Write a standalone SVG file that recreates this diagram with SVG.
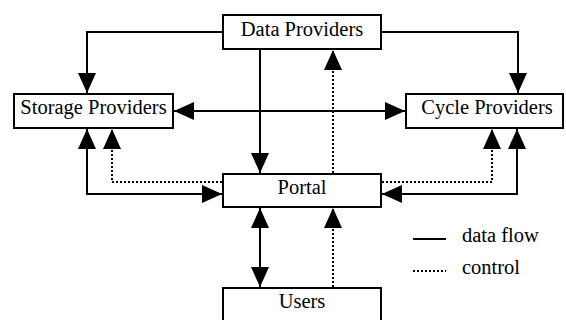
<svg xmlns="http://www.w3.org/2000/svg" width="566" height="320" viewBox="0 0 566 320">
<style>
.box{fill:#fff;stroke:#000;stroke-width:2}
.lbl{font-family:"Liberation Serif","Times New Roman",serif;font-size:20.5px;fill:#000;text-anchor:middle}
.leg{font-family:"Liberation Serif","Times New Roman",serif;font-size:20.5px;fill:#000}
.solid{fill:none;stroke:#000;stroke-width:2}
.dot{fill:none;stroke:#000;stroke-width:2;stroke-dasharray:2 2}
</style>
<defs>
<marker id="ah" viewBox="0 0 20 18" refX="20" refY="9" markerWidth="20" markerHeight="18" markerUnits="userSpaceOnUse" orient="auto-start-reverse">
<path d="M0,0 L20,9 L0,18 z" fill="#000"/>
</marker>
</defs>
<rect width="566" height="320" fill="#fff"/>
<g id="connectors">
<path class="solid" d="M222,32 H87 V93" marker-end="url(#ah)"/>
<path class="solid" d="M382,32 H518 V93" marker-end="url(#ah)"/>
<path class="solid" d="M174,111 H405" marker-start="url(#ah)" marker-end="url(#ah)"/>
<path class="solid" d="M260,50 V173" marker-end="url(#ah)"/>
<path class="dot" d="M333,173 V50" marker-end="url(#ah)"/>
<path class="solid" d="M222,194 H87 V129" marker-start="url(#ah)" marker-end="url(#ah)"/>
<path class="dot" d="M222,182 H112 V129" marker-end="url(#ah)"/>
<path class="solid" d="M382,194 H517 V129" marker-start="url(#ah)" marker-end="url(#ah)"/>
<path class="dot" d="M382,182 H492 V129" marker-end="url(#ah)"/>
<path class="solid" d="M260,208 V287" marker-start="url(#ah)" marker-end="url(#ah)"/>
<path class="dot" d="M333,287 V208" marker-end="url(#ah)"/>
</g>
<g id="data-providers">
<rect class="box" x="223" y="15" width="158" height="34"/>
<text class="lbl" x="302" y="35.5">Data Providers</text>
</g>
<g id="storage-providers">
<rect class="box" x="14" y="94" width="159" height="34"/>
<text class="lbl" x="93.5" y="114">Storage Providers</text>
</g>
<g id="cycle-providers">
<rect class="box" x="406" y="94" width="157" height="34"/>
<text class="lbl" x="487" y="114">Cycle Providers</text>
</g>
<g id="portal">
<rect class="box" x="223" y="174" width="158" height="33"/>
<text class="lbl" x="302" y="194">Portal</text>
</g>
<g id="users">
<rect class="box" x="223" y="288" width="158" height="40"/>
<text class="lbl" x="302" y="307.5">Users</text>
</g>
<g id="legend">
<line class="solid" x1="413" y1="239" x2="446" y2="239"/>
<text class="leg" x="462" y="242">data flow</text>
<line class="dot" x1="413" y1="271" x2="446" y2="271"/>
<text class="leg" x="462" y="273.5">control</text>
</g>
</svg>
